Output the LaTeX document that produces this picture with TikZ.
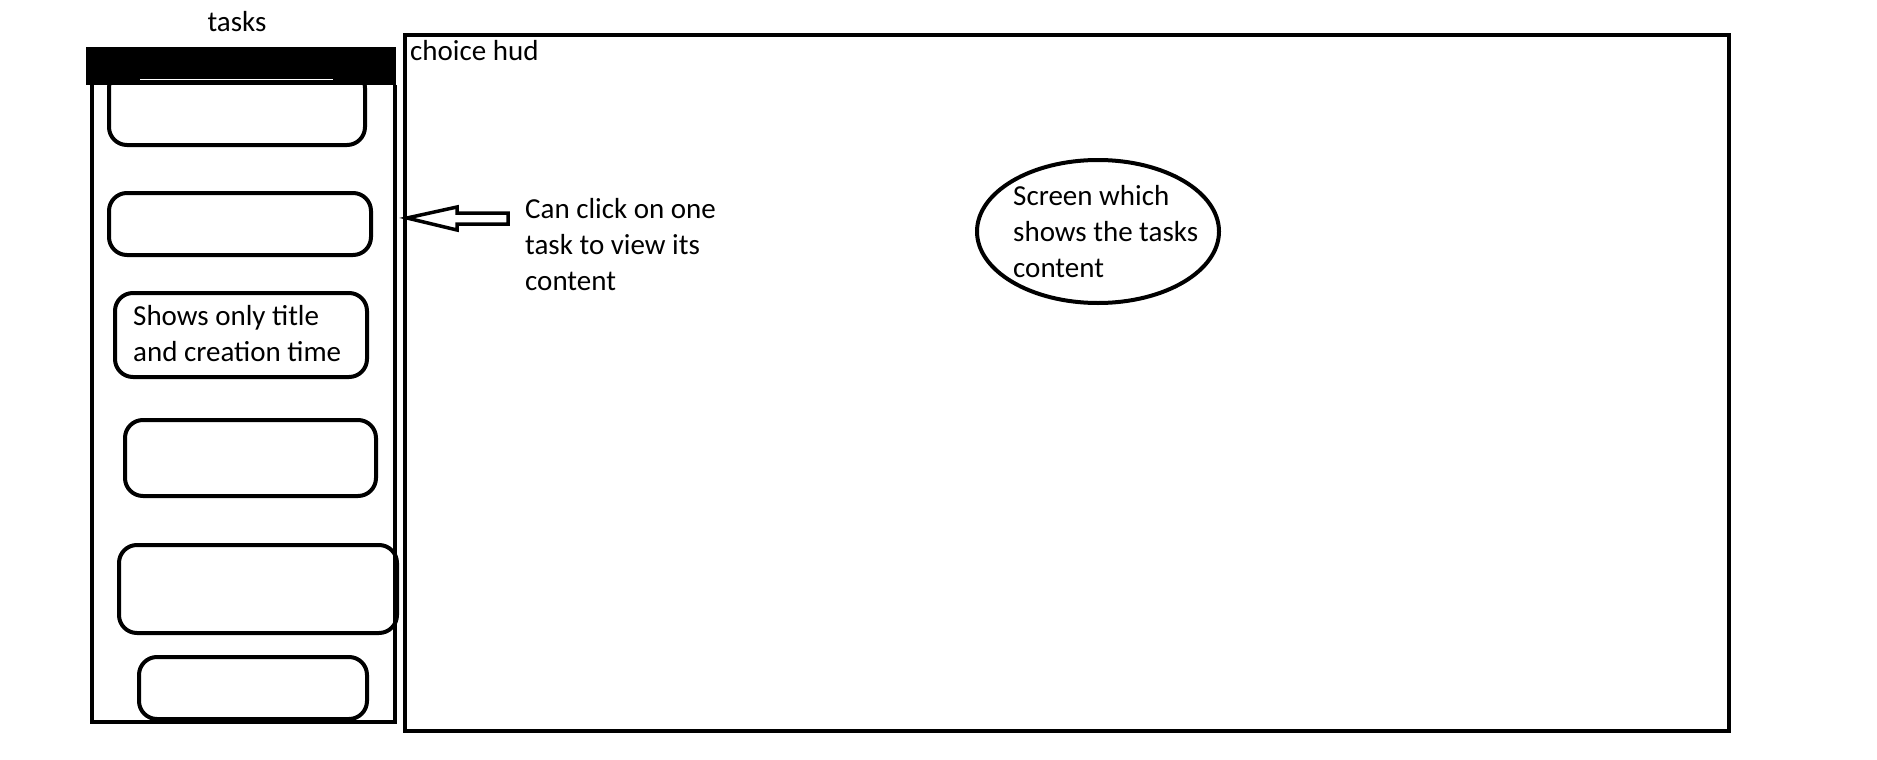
\documentclass[tikz,border=0pt]{standalone}
\usepackage{fontspec}
\setmainfont{Carlito}
\usetikzlibrary{shapes.geometric}
\begin{document}
\begin{tikzpicture}[x=1pt,y=-1pt,
  frame/.style={draw=black,line width=4pt},
  item/.style={draw=black,line width=4pt,rounded corners=18pt},
  lbl/.style={font=\fontsize{29}{36}\selectfont,inner sep=0pt,align=left},
  ]
\useasboundingbox (0,0) rectangle (1877,760);
% tasks list
\draw[item] (109,70) rectangle (365,145);
\draw[frame] (92,85) -- (92,722) -- (395,722) -- (395,85);
\fill[black] (86,47) rectangle (396,85);
\draw[white,line width=1pt] (140,80) -- (333,80);
\node[lbl,anchor=base] (tasks) at (237,32) {tasks};
\draw[item] (109,193) rectangle (371,255);
\draw[item] (115,293) rectangle (367,377);
\node[lbl,anchor=west] (t3) at (133,334) {Shows only title\\and creation time};
\draw[item] (125,420) rectangle (376,496);
\draw[item] (119,545) rectangle (397,633);
\draw[item] (139,657) rectangle (367,719);
% choice hud
\draw[frame] (405,35) rectangle (1729,731);
\node[lbl,anchor=north west] (hud) at (410,40) {choice hud};
% arrow
\node[lbl,anchor=west] (click) at (525,245) {Can click on one\\task to view its\\content};
\draw[line width=3.5pt,line join=miter] (407,218) -- (457,207) -- (457,213) -- (508,213) -- (508,224) -- (457,224) -- (457,230) -- cycle;
% ellipse
\draw[line width=4pt] (1098,231.5) ellipse [x radius=121, y radius=71.5];
\node[lbl,anchor=west] (scr) at (1013,232) {Screen which\\shows the tasks\\content};
\end{tikzpicture}
\end{document}
